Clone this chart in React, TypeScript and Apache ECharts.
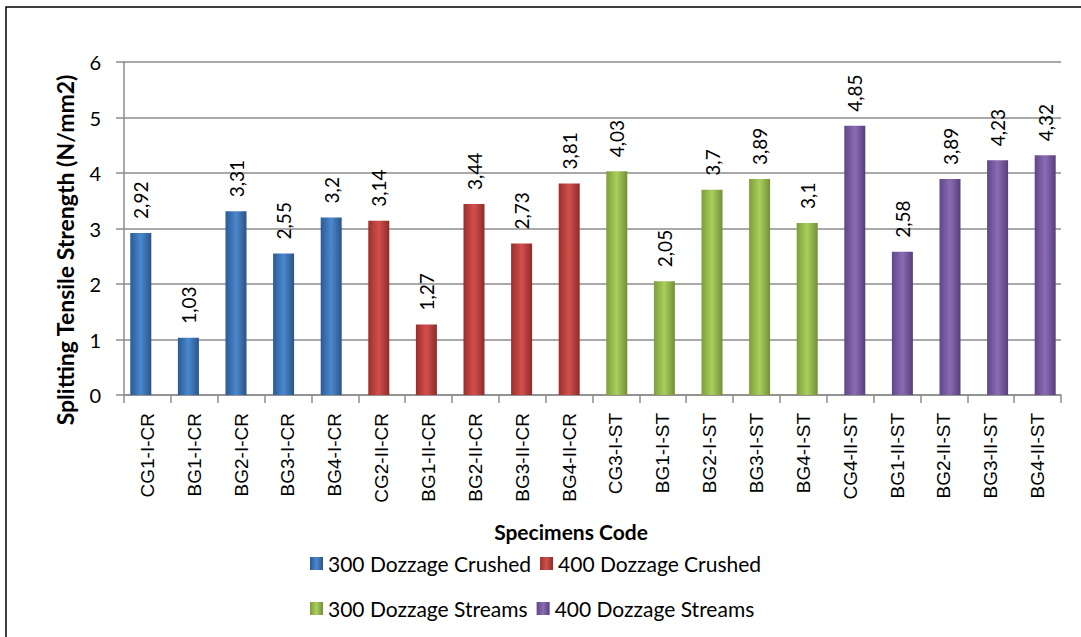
import React, { useEffect, useRef } from "react";
import * as echarts from "echarts";

const categories = [
  "CG1-I-CR", "BG1-I-CR", "BG2-I-CR", "BG3-I-CR", "BG4-I-CR",
  "CG2-II-CR", "BG1-II-CR", "BG2-II-CR", "BG3-II-CR", "BG4-II-CR",
  "CG3-I-ST", "BG1-I-ST", "BG2-I-ST", "BG3-I-ST", "BG4-I-ST",
  "CG4-II-ST", "BG1-II-ST", "BG2-II-ST", "BG3-II-ST", "BG4-II-ST",
];
const crushed300 = [2.92, 1.03, 3.31, 2.55, 3.2];
const crushed400 = [3.14, 1.27, 3.44, 2.73, 3.81];
const streams300 = [4.03, 2.05, 3.7, 3.89, 3.1];
const streams400 = [4.85, 2.58, 3.89, 4.23, 4.32];
const seriesNames = ["300 Dozzage Crushed", "400 Dozzage Crushed", "300 Dozzage Streams", "400 Dozzage Streams"];
const yTicks = [0, 1, 2, 3, 4, 5, 6];
const yTitle = "Splitting Tensile Strength (N/mm2)";
const xTitle = "Specimens Code";

const groups = [crushed300, crushed400, streams300, streams400];
const palettes = [
  ["#2b5a92", "#4a88cf", "#2a5486"],
  ["#9c2f2c", "#d2504c", "#8e2a28"],
  ["#7e9d3a", "#a9cf5c", "#738f35"],
  ["#5f4785", "#8a6cb5", "#573f7a"],
];

function App() {
  const ref = useRef<HTMLDivElement>(null);
  useEffect(() => {
    document.body.style.margin = "0";
    const chart = echarts.init(ref.current!, null, { renderer: "svg" });
    let offset = 0;
    const series = groups.map((vals, gi) => {
      const data = categories.map(() => "-" as any);
      vals.forEach((v, i) => (data[offset + i] = v));
      offset += vals.length;
      const p = palettes[gi];
      return {
        name: seriesNames[gi],
        type: "bar",
        stack: "all",
        barWidth: 21,
        xAxisIndex: 1,
        yAxisIndex: 1,
        data,
        itemStyle: {
          color: new echarts.graphic.LinearGradient(0, 0, 1, 0, [
            { offset: 0, color: p[0] },
            { offset: 0.5, color: p[1] },
            { offset: 1, color: p[2] },
          ]),
        },
        label: {
          show: true,
          position: "top",
          rotate: 90,
          align: "left",
          verticalAlign: "middle",
          distance: 14,
          fontFamily: "Lato",
          fontSize: 19,
          color: "#000",
          formatter: (pp: any) => String(pp.value).replace(".", ","),
        },
      };
    });
    const legendBase = {
      orient: "horizontal",
      itemWidth: 13,
      itemHeight: 13,
      itemGap: 9,
      icon: "rect",
      textStyle: { fontFamily: "Lato", fontSize: 21, color: "#000", padding: [0, 0, 0, 0] },
    };
    const axisColor = "#8c8c8c";
    chart.setOption({
      animation: false,
      backgroundColor: "#fff",
      graphic: [
        {
          type: "rect",
          shape: { x: 6, y: 7, width: 1100, height: 650 },
          style: { fill: "none", stroke: "#000", lineWidth: 1.5 },
          silent: true,
        },
        {
          type: "text",
          x: 571,
          y: 531,
          style: {
            text: xTitle,
            fontFamily: "Lato",
            fontWeight: "bold",
            fontSize: 21,
            fill: "#000",
            align: "center",
            verticalAlign: "middle",
          },
        },
        {
          type: "text",
          x: 65,
          y: 250,
          rotation: Math.PI / 2,
          style: {
            text: yTitle,
            fontFamily: "Lato",
            fontWeight: "bold",
            fontSize: 23,
            fill: "#000",
            align: "center",
            verticalAlign: "middle",
          },
        },
      ],
      legend: [
        { ...legendBase, left: 305, top: 548, data: [seriesNames[0], seriesNames[1]] },
        { ...legendBase, left: 305, top: 593, data: [seriesNames[2], seriesNames[3]] },
      ],
      grid: [
        { left: 124, top: 62, width: 937, height: 333, containLabel: false },
        { left: 117, top: 62, width: 952, height: 333, containLabel: false },
      ],
      xAxis: [
        {
          type: "category",
          gridIndex: 0,
          data: categories,
          axisLine: { lineStyle: { color: axisColor, width: 1.5 } },
          axisTick: { show: true, alignWithLabel: false, length: 8, lineStyle: { color: axisColor, width: 1.5 } },
          axisLabel: {
            rotate: 90,
            margin: 18,
            interval: 0,
            fontFamily: "Liberation Sans",
            fontSize: 19,
            color: "#000",
          },
        },
        {
          type: "category",
          gridIndex: 1,
          data: categories,
          show: false,
        },
      ],
      yAxis: [
        {
          type: "value",
          gridIndex: 0,
          min: 0,
          max: 6,
          interval: 1,
          axisLine: { show: true, lineStyle: { color: axisColor, width: 1.5 } },
          axisTick: { show: true, length: 8, lineStyle: { color: axisColor, width: 1.5 } },
          splitLine: { lineStyle: { color: axisColor, width: 1.5 } },
          axisLabel: {
            margin: 23,
            fontFamily: "Lato",
            fontSize: 20,
            color: "#000",
            formatter: (v: number) => (yTicks.includes(v) ? String(v) : ""),
          },
        },
        {
          type: "value",
          gridIndex: 1,
          min: 0,
          max: 6,
          interval: 1,
          show: false,
          splitLine: { show: false },
        },
      ],
      series,
    });
    return () => chart.dispose();
  }, []);
  return <div ref={ref} style={{ width: 1081, height: 637 }} />;
}

export default App;
